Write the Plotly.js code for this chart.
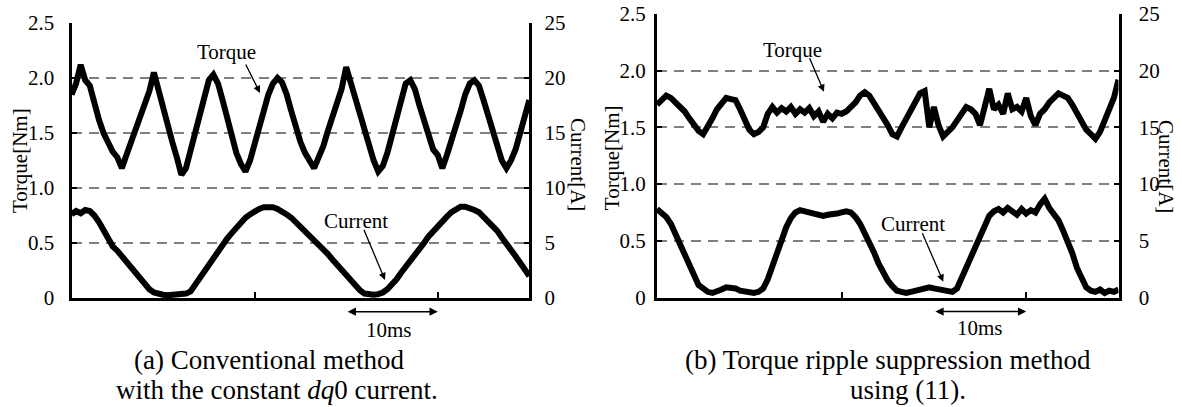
<!DOCTYPE html>
<html>
<head>
<meta charset="utf-8">
<script src="https://cdn.plot.ly/plotly-3.0.1.min.js"></script>
<style>html,body{margin:0;padding:0;background:#fff;}#chart{width:1182px;height:407px;}</style>
</head>
<body>
<div id="chart"></div>
<script>
// sample times [ms]
const timeMs = [0,0.5,1,1.5,2,2.5,3,3.5,4,4.5,5,5.5,6,6.5,7,7.5,8,8.5,9,9.5,
10,10.5,11,11.5,12,12.5,13,13.5,14,14.5,15,15.5,16,16.5,17,17.5,18,18.5,19,19.5,
20,20.5,21,21.5,22,22.5,23,23.5,24,24.5,25,25.5,26,26.5,27,27.5,28,28.5,29,29.5,
30,30.5,31,31.5,32,32.5,33,33.5,34,34.5,35,35.5,36,36.5,37,37.5,38,38.5,39,39.5,
40,40.5,41,41.5,42,42.5,43,43.5,44,44.5,45,45.5,46,46.5,47,47.5,48,48.5,49,49.5,50];

// (a) Conventional method: torque [Nm]
const torqueA = [1.85,1.95,2.12,1.98,1.93,1.75,1.62,1.50,1.42,1.33,
1.28,1.18,1.30,1.42,1.55,1.68,1.80,1.88,2.05,1.88,
1.75,1.58,1.42,1.28,1.12,1.18,1.35,1.52,1.68,1.85,
1.98,2.03,1.95,1.80,1.62,1.45,1.32,1.22,1.15,1.25,
1.40,1.57,1.72,1.85,1.95,2.00,1.96,1.85,1.70,1.55,
1.42,1.32,1.25,1.18,1.28,1.38,1.52,1.65,1.78,1.90,
2.10,1.95,1.82,1.65,1.50,1.35,1.25,1.15,1.20,1.32,
1.48,1.65,1.80,1.95,1.98,1.90,1.75,1.60,1.45,1.35,
1.30,1.18,1.30,1.42,1.55,1.70,1.85,1.95,1.98,1.93,
1.80,1.65,1.50,1.35,1.25,1.18,1.25,1.35,1.50,1.65,
1.80];
// (a) current [A]
const currentA = [7.6,7.9,7.7,8.0,7.9,7.5,6.9,6.1,5.3,4.7,
4.3,3.8,3.3,2.7,2.2,1.6,1.1,0.8,0.5,0.35,
0.3,0.25,0.3,0.3,0.35,0.4,0.6,1.2,1.9,2.6,
3.2,3.7,4.3,4.9,5.4,5.9,6.4,6.9,7.3,7.6,
7.9,8.1,8.25,8.3,8.25,8.1,7.9,7.6,7.3,6.9,
6.5,6.1,5.7,5.2,4.8,4.4,4.0,3.5,3.0,2.5,
2.0,1.5,1.0,0.7,0.4,0.3,0.3,0.35,0.5,0.8,
1.2,1.7,2.3,2.8,3.3,3.9,4.5,5.0,5.6,6.1,
6.6,7.0,7.4,7.8,8.1,8.3,8.3,8.2,8.0,7.8,
7.4,7.0,6.6,6.1,5.5,5.0,4.4,3.8,3.2,2.6,
2.0];

// (b) Torque ripple suppression: torque [Nm]
const torqueB = [1.70,1.74,1.78,1.76,1.72,1.68,1.64,1.58,1.52,1.47,
1.44,1.50,1.58,1.66,1.72,1.76,1.75,1.74,1.66,1.56,
1.48,1.44,1.46,1.50,1.62,1.68,1.63,1.67,1.64,1.68,
1.62,1.66,1.63,1.67,1.60,1.64,1.55,1.62,1.58,1.63,
1.62,1.64,1.68,1.72,1.78,1.81,1.78,1.72,1.66,1.60,
1.52,1.44,1.42,1.50,1.58,1.65,1.73,1.80,1.82,1.50,
1.68,1.52,1.42,1.46,1.50,1.56,1.62,1.68,1.66,1.62,
1.52,1.68,1.84,1.66,1.70,1.62,1.80,1.66,1.68,1.64,
1.76,1.60,1.52,1.62,1.66,1.72,1.76,1.80,1.78,1.76,
1.70,1.62,1.55,1.48,1.44,1.40,1.46,1.55,1.66,1.76,
1.92];
// (b) current [A]
const currentB = [7.8,7.5,7.1,6.5,5.6,4.7,3.6,2.6,1.8,1.1,
0.8,0.5,0.4,0.5,0.7,0.9,0.9,0.8,0.6,0.5,
0.4,0.4,0.5,0.8,1.6,2.8,4.0,5.1,6.2,7.0,
7.5,7.7,7.6,7.5,7.4,7.3,7.2,7.3,7.3,7.4,
7.5,7.6,7.5,7.1,6.5,5.7,4.9,4.0,3.0,2.2,
1.5,1.0,0.6,0.5,0.4,0.5,0.6,0.8,0.9,0.9,
0.8,0.7,0.6,0.5,0.5,0.8,1.7,2.6,3.6,4.6,
5.6,6.5,7.2,7.6,7.8,7.5,7.9,7.6,7.3,7.8,
7.4,7.7,7.5,8.2,8.7,7.9,7.4,6.8,5.9,5.0,
3.9,2.6,1.6,0.9,0.6,0.5,0.7,0.4,0.6,0.5,
0.7];

const torqueTicks = [0,0.5,1.0,1.5,2.0,2.5];
const torqueTickText = ['0','0.5','1.0','1.5','2.0','2.5'];
const currentTicks = [0,5,10,15,20,25];
const currentTickText = ['0','5','10','15','20','25'];
const timeTicks = [0,20,40];
const scaleBar = [30,40];

const captionA1 = '(a) Conventional method';
const captionA2 = 'with the constant <i>dq</i>0 current.';
const captionB1 = '(b) Torque ripple suppression method';
const captionB2 = 'using (11).';

const W = 1182, H = 407;
const FONT = 'Liberation Serif, Times New Roman, serif';
const px = v => v / W;
const py = v => 1 - v / H;

function lineTrace(x, y, xa, ya) {
  return {x: x, y: y, xaxis: xa, yaxis: ya, type: 'scatter', mode: 'lines',
    line: {color: '#000', width: 6}, hoverinfo: 'skip'};
}

const traces = [
  lineTrace(timeMs, torqueA, 'x', 'y'),
  lineTrace(timeMs, currentA, 'x', 'y3'),
  lineTrace(timeMs, torqueB, 'x2', 'y2'),
  lineTrace(timeMs, currentB, 'x2', 'y4')
];

function xAx(domain, anchor) {
  return {domain: domain, anchor: anchor, range: [0, 50], showline: true, linecolor: '#000',
    linewidth: 3, ticks: 'inside', tickvals: timeTicks, ticklen: 6, tickwidth: 2, tickcolor: '#000',
    showticklabels: false, showgrid: false, zeroline: false, fixedrange: true};
}
function yAx(domain, anchor, standoff) {
  return {domain: domain, anchor: anchor, range: [0, 2.5], showline: true, linecolor: '#000',
    linewidth: 3, ticks: 'inside', ticklen: 5, tickwidth: 2, tickcolor: '#000',
    tickvals: torqueTicks, ticktext: torqueTickText, showgrid: true, gridcolor: '#808080',
    gridwidth: 2, griddash: '10px,7px', zeroline: false, ticklabelstandoff: standoff,
    tickfont: {family: FONT, size: 21, color: '#000'}, fixedrange: true};
}
function yAxR(over, anchor, standoff) {
  return {overlaying: over, anchor: anchor, side: 'right', range: [0, 25], showline: true,
    linecolor: '#000', linewidth: 3, ticks: 'inside', ticklen: 5, tickwidth: 2, tickcolor: '#000',
    tickvals: currentTicks, ticktext: currentTickText, showgrid: false, zeroline: false,
    ticklabelstandoff: standoff, tickfont: {family: FONT, size: 21, color: '#000'}, fixedrange: true};
}

function txt(text, x, y, size, angle) {
  return {text: text, xref: 'paper', yref: 'paper', x: px(x), y: py(y), showarrow: false,
    xanchor: 'center', yanchor: 'middle', textangle: angle || 0,
    font: {family: FONT, size: size, color: '#000'}};
}
function arrow(hx, hy, tx, ty) {
  return {text: '', xref: 'paper', yref: 'paper', x: px(hx), y: py(hy),
    axref: 'pixel', ayref: 'pixel', ax: tx - hx, ay: ty - hy, showarrow: true,
    arrowhead: 2, arrowsize: 1.1, arrowwidth: 1.3, arrowcolor: '#000'};
}
function scaleArrow(xa, yPix) {
  return {text: '', xref: xa, yref: 'paper', x: scaleBar[1], y: py(yPix),
    axref: xa, ayref: 'paper', ax: scaleBar[0], ay: py(yPix), showarrow: true,
    arrowside: 'end+start', arrowhead: 2, arrowsize: 1.1, arrowwidth: 1.5, arrowcolor: '#000'};
}

const annotations = [
  txt('Torque[Nm]', 20, 161, 21, -90),
  txt('Current[A]', 578, 164, 21, 90),
  txt('Torque[Nm]', 611.7, 157.5, 21, -90),
  txt('Current[A]', 1166.7, 166.7, 21, 90),
  txt('Torque', 226.7, 52.5, 21),
  arrow(260, 93, 245, 63),
  txt('Current', 355.8, 220.8, 21),
  arrow(385, 280, 363.3, 228.3),
  txt('Torque', 792.3, 50, 21),
  arrow(824, 91.7, 809, 56.7),
  txt('Current', 913, 224, 21),
  arrow(943.3, 281.7, 921.7, 231.7),
  scaleArrow('x', 311.7),
  scaleArrow('x2', 311.5),
  txt('10ms', 389, 330, 21),
  txt('10ms', 980, 328, 21),
  txt(captionA1, 269, 360, 27),
  txt(captionA2, 276.5, 390, 27),
  txt(captionB1, 888, 360, 27),
  txt(captionB2, 908, 390, 27)
];

const layout = {
  width: W, height: H, margin: {l: 0, r: 0, t: 0, b: 0},
  paper_bgcolor: '#fff', plot_bgcolor: '#fff', showlegend: false,
  font: {family: FONT, size: 21, color: '#000'},
  xaxis: xAx([71.5 / W, 529.3 / W], 'y'),
  yaxis: yAx([(H - 298) / H, (H - 23) / H], 'x', 10),
  yaxis3: yAxR('y', 'x', 8),
  xaxis2: xAx([657 / W, 1118.5 / W], 'y2'),
  yaxis2: yAx([(H - 297.5) / H, (H - 14) / H], 'x2', 4),
  yaxis4: yAxR('y2', 'x2', 13),
  annotations: annotations
};

Plotly.newPlot('chart', traces, layout, {displayModeBar: false, staticPlot: true});
</script>
</body>
</html>
